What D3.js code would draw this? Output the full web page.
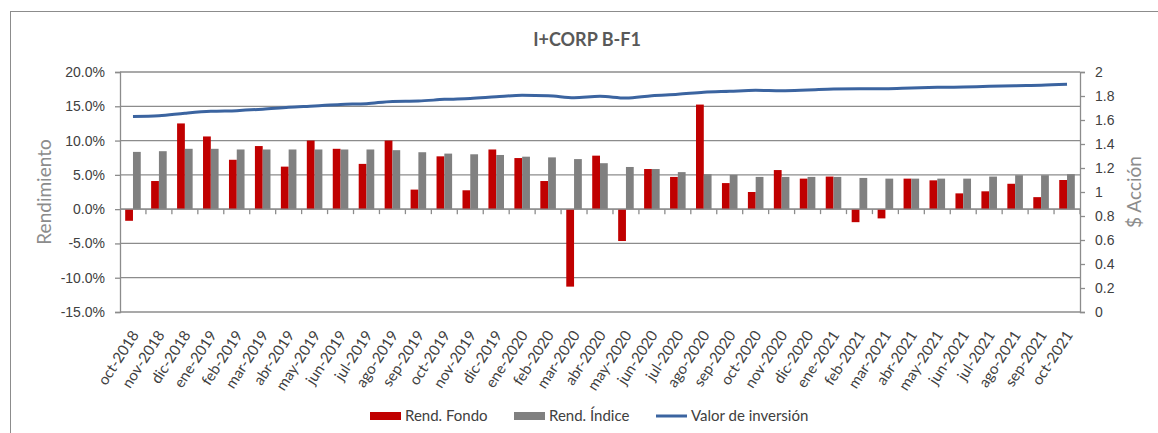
<!DOCTYPE html>
<html>
<head>
<meta charset="utf-8">
<script src="https://cdn.jsdelivr.net/npm/d3@7"></script>
<style>
  body { margin: 0; background: #fff; }
  svg { font-family: Lato, "Open Sans", sans-serif; }
</style>
</head>
<body>
<div id="chart"></div>
<script>
// meses
const months = ['oct-2018','nov-2018','dic-2018','ene-2019','feb-2019','mar-2019','abr-2019','may-2019',
  'jun-2019','jul-2019','ago-2019','sep-2019','oct-2019','nov-2019','dic-2019','ene-2020','feb-2020',
  'mar-2020','abr-2020','may-2020','jun-2020','jul-2020','ago-2020','sep-2020','oct-2020','nov-2020',
  'dic-2020','ene-2021','feb-2021','mar-2021','abr-2021','may-2021','jun-2021','jul-2021','ago-2021',
  'sep-2021','oct-2021'];

// rendimientos en %
const rendFondo = [-1.7, 4.1, 12.5, 10.6, 7.2, 9.2, 6.2, 10.0, 8.8, 6.6, 10.0, 2.85, 7.7, 2.75, 8.7, 7.45, 4.1,
  -11.3, 7.8, -4.65, 5.85, 4.7, 15.25, 3.8, 2.5, 5.7, 4.45, 4.75, -1.9, -1.35, 4.45, 4.2, 2.3, 2.6, 3.7, 1.75, 4.25];
const rendIndice = [8.35, 8.45, 8.8, 8.8, 8.7, 8.7, 8.7, 8.7, 8.7, 8.7, 8.6, 8.3, 8.1, 8.0, 7.9, 7.65, 7.55,
  7.3, 6.7, 6.15, 5.85, 5.4, 5.1, 5.0, 4.7, 4.7, 4.7, 4.7, 4.55, 4.45, 4.45, 4.45, 4.45, 4.75, 4.95, 4.95, 5.1];

// valor de la acción
const valorInversion = [1.63, 1.636, 1.656, 1.672, 1.678, 1.69, 1.706, 1.717, 1.73, 1.736, 1.755, 1.758, 1.772,
  1.78, 1.794, 1.806, 1.803, 1.786, 1.797, 1.783, 1.803, 1.814, 1.831, 1.839, 1.847, 1.844, 1.85, 1.858,
  1.861, 1.861, 1.867, 1.872, 1.875, 1.881, 1.886, 1.889, 1.897];

const leftTicks = [-15, -10, -5, 0, 5, 10, 15, 20];
const rightTicks = [0, 0.2, 0.4, 0.6, 0.8, 1, 1.2, 1.4, 1.6, 1.8, 2];

const width = 1158, height = 433;
const m = { left: 120, right: 1080, top: 72, bottom: 312 };
const axisColor = '#8c8c8c';
const textColor = '#404040';

const svg = d3.select('#chart').append('svg')
  .attr('width', width)
  .attr('height', height);

// marco
svg.append('rect')
  .attr('x', 10.5).attr('y', 11.5)
  .attr('width', 1200).attr('height', 500)
  .attr('fill', 'none')
  .attr('stroke', '#8c8c8c')
  .attr('stroke-width', 1);

const x = d3.scaleBand().domain(months).range([m.left, m.right]);
const sub = d3.scaleBand().domain(['fondo', 'indice'])
  .range([0, x.bandwidth() * 0.6]);
const subOffset = x.bandwidth() * 0.2;

const y = d3.scaleLinear().domain([-15, 20]).range([m.bottom, m.top]);
const y2 = d3.scaleLinear().domain([0, 2]).range([m.bottom, m.top]);

// lineas de cuadricula
svg.append('g')
  .selectAll('line')
  .data(leftTicks)
  .enter().append('line')
  .attr('x1', m.left).attr('x2', m.right)
  .attr('y1', d => y(d)).attr('y2', d => y(d))
  .attr('stroke', axisColor)
  .attr('stroke-width', 1.3);

// eje izquierdo
const yAxis = svg.append('g')
  .attr('transform', `translate(${m.left},0)`)
  .call(d3.axisLeft(y).tickValues(leftTicks).tickSize(5).tickPadding(10)
    .tickFormat(d => d.toFixed(1) + '%'));
yAxis.select('.domain').attr('stroke', axisColor).attr('stroke-width', 1.3);
yAxis.selectAll('.tick line').attr('stroke', axisColor).attr('stroke-width', 1.3);
yAxis.selectAll('text').attr('fill', textColor).style('font-size', '14px');

// eje derecho
const y2Axis = svg.append('g')
  .attr('transform', `translate(${m.right},0)`)
  .call(d3.axisRight(y2).tickValues(rightTicks).tickSize(5).tickPadding(10)
    .tickFormat(d => d3.format('~g')(d)));
y2Axis.select('.domain').attr('stroke', axisColor).attr('stroke-width', 1.3);
y2Axis.selectAll('.tick line').attr('stroke', axisColor).attr('stroke-width', 1.3);
y2Axis.selectAll('text').attr('fill', textColor).style('font-size', '14px');

// barras
const groups = svg.append('g')
  .selectAll('g')
  .data(months)
  .enter().append('g')
  .attr('transform', d => `translate(${x(d) + subOffset},0)`);

groups.append('rect')
  .attr('x', sub('fondo'))
  .attr('width', sub.bandwidth())
  .attr('y', (d, i) => y(Math.max(0, rendFondo[i])))
  .attr('height', (d, i) => Math.abs(y(rendFondo[i]) - y(0)))
  .attr('fill', '#c00000');

groups.append('rect')
  .attr('x', sub('indice'))
  .attr('width', sub.bandwidth())
  .attr('y', (d, i) => y(Math.max(0, rendIndice[i])))
  .attr('height', (d, i) => Math.abs(y(rendIndice[i]) - y(0)))
  .attr('fill', '#808080');

// eje x en cero
const xAxis = svg.append('g')
  .attr('transform', `translate(0,${y(0)})`);
xAxis.append('line')
  .attr('x1', m.left).attr('x2', m.right)
  .attr('stroke', axisColor).attr('stroke-width', 1.3);
xAxis.selectAll('.tk')
  .data(months)
  .enter().append('line')
  .attr('class', 'tk')
  .attr('x1', d => x(d) + x.bandwidth()).attr('x2', d => x(d) + x.bandwidth())
  .attr('y1', 0).attr('y2', 5)
  .attr('stroke', axisColor).attr('stroke-width', 1.3);

// etiquetas de meses
svg.append('g')
  .selectAll('text')
  .data(months)
  .enter().append('text')
  .attr('transform', d => `translate(${x(d) + x.bandwidth() / 2 + 2},${m.bottom + 20}) rotate(-57)`)
  .attr('text-anchor', 'end')
  .attr('dy', '0.35em')
  .attr('fill', textColor)
  .style('font-size', '15px')
  .text(d => d);

// linea valor de inversion
const line = d3.line()
  .x((d, i) => x(months[i]) + x.bandwidth() / 2)
  .y(d => y2(d))
  .curve(d3.curveMonotoneX);

svg.append('path')
  .datum(valorInversion)
  .attr('d', line)
  .attr('fill', 'none')
  .attr('stroke', '#3b64a0')
  .attr('stroke-width', 3);

// titulo
svg.append('text')
  .attr('x', 587).attr('y', 46)
  .attr('text-anchor', 'middle')
  .attr('fill', '#595959')
  .style('font-size', '18px')
  .style('font-weight', 'bold')
  .text('I+CORP B-F1');

// titulos de ejes
svg.append('text')
  .attr('transform', `translate(51,${(m.top + m.bottom) / 2}) rotate(-90)`)
  .attr('text-anchor', 'middle')
  .attr('fill', '#8c8c8c')
  .style('font-size', '19px')
  .text('Rendimiento');

svg.append('text')
  .attr('transform', `translate(1141,${(m.top + m.bottom) / 2}) rotate(-90)`)
  .attr('text-anchor', 'middle')
  .attr('fill', '#8c8c8c')
  .style('font-size', '19px')
  .text('$ Acción');

// leyenda
const legendItems = [
  { label: 'Rend. Fondo', color: '#c00000', type: 'rect', x: 370 },
  { label: 'Rend. Índice', color: '#808080', type: 'rect', x: 514 },
  { label: 'Valor de inversión', color: '#3b64a0', type: 'line', x: 656 }
];
const legend = svg.append('g')
  .selectAll('g')
  .data(legendItems)
  .enter().append('g')
  .attr('transform', d => `translate(${d.x},416)`);

legend.filter(d => d.type === 'rect').append('rect')
  .attr('x', 0).attr('y', -4)
  .attr('width', 31).attr('height', 8)
  .attr('fill', d => d.color);
legend.filter(d => d.type === 'line').append('line')
  .attr('x1', 0).attr('x2', 31)
  .attr('stroke', d => d.color)
  .attr('stroke-width', 3);
legend.append('text')
  .attr('x', 35).attr('dy', '0.35em')
  .attr('fill', textColor)
  .style('font-size', '15px')
  .text(d => d.label);
</script>
</body>
</html>
